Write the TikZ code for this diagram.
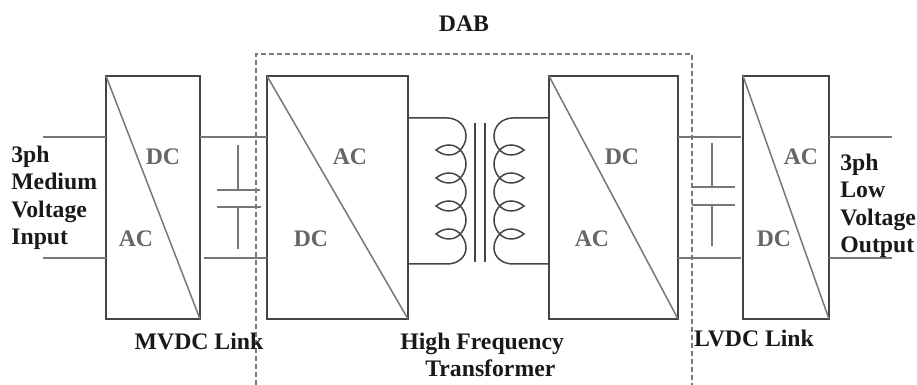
\documentclass[tikz,border=0pt]{standalone}
\usepackage{fontspec}
\setmainfont{Liberation Serif}
\usetikzlibrary{positioning}
\definecolor{boxgray}{HTML}{444444}
\definecolor{wiregray}{HTML}{777777}
\definecolor{labelgray}{HTML}{666666}
\tikzset{converter/.style={rectangle,draw=boxgray,fill=white,line width=0.4mm,
inner sep=0pt,outer sep=0pt,minimum height=48.6mm,anchor=north west}}
\tikzset{convtext/.style={text=labelgray,font=\fontsize{13.5}{15.6}\selectfont\bfseries,inner sep=0pt}}
\tikzset{sidetext/.style={text=black!90,font=\fontsize{13.5}{15.6}\selectfont\bfseries,inner sep=0pt,align=left,anchor=west}}
\tikzset{captext/.style={text=black!90,font=\fontsize{13.5}{15.6}\selectfont\bfseries,inner sep=0pt,align=center}}
\tikzset{wire/.style={draw=wiregray,line width=0.3mm}}
\tikzset{coil/.style={draw=boxgray,line width=0.3mm}}
\tikzset{dabframe/.style={draw=wiregray,line width=0.25mm,dash pattern=on 1mm off 0.6mm}}

\begin{document}
\begin{tikzpicture}[x=0.2mm,y=-0.2mm]
    \useasboundingbox (0,0) rectangle (917,385);

    \draw[dabframe] (256,385) -- (256,54) -- (692,54) -- (692,385);

    \node[converter, minimum width=18.8mm] (convA) at (106,76) { };
    \node[converter, minimum width=28.2mm] (convB) at (267,76) { };
    \node[converter, minimum width=25.8mm] (convC) at (549,76) { };
    \node[converter, minimum width=17.2mm] (convD) at (743,76) { };

    \draw[wire] (convA.north west) -- (convA.south east);
    \draw[wire] (convB.north west) -- (convB.south east);
    \draw[wire] (convC.north west) -- (convC.south east);
    \draw[wire] (convD.north west) -- (convD.south east);

    \coordinate (inTop) at (43,137);
    \coordinate (inBot) at (43,258);
    \coordinate (outTop) at (892,137);
    \coordinate (outBot) at (892,258);
    \draw[wire] (inTop) -- (inTop -| convA.west);
    \draw[wire] (inBot) -- (inBot -| convA.west);
    \draw[wire] (outTop) -- (outTop -| convD.east);
    \draw[wire] (outBot) -- (outBot -| convD.east);

    \draw[wire] (inTop -| convA.east) -- (inTop -| convB.west);
    \draw[wire] ([xshift=0.7mm]inBot -| convA.east) -- (inBot -| convB.west);
    \draw[wire] (inTop -| convC.east) -- ([xshift=-0.4mm]inTop -| convD.west);
    \draw[wire] (inBot -| convC.east) -- ([xshift=-0.4mm]inBot -| convD.west);

    % MVDC capacitor
    \coordinate (capAtop) at (238,145);
    \coordinate (capAbot) at (238,249);
    \coordinate (plateAul) at (217,190);
    \coordinate (plateAur) at (260,190);
    \coordinate (plateAll) at (217,207);
    \coordinate (plateAlr) at (261,207);
    \draw[wire] (capAtop) -- (capAtop |- plateAul);
    \draw[wire] (capAbot) -- (capAbot |- plateAll);
    \draw[wire] (plateAul) -- (plateAur);
    \draw[wire] (plateAll) -- (plateAlr);

    % LVDC capacitor
    \coordinate (capBtop) at (712,143);
    \coordinate (capBbot) at (712,246);
    \coordinate (plateBul) at (692,187);
    \coordinate (plateBur) at (735,187);
    \coordinate (plateBll) at (692,205);
    \coordinate (plateBlr) at (735,205);
    \draw[wire] (capBtop) -- (capBtop |- plateBul);
    \draw[wire] (capBbot) -- (capBbot |- plateBll);
    \draw[wire] (plateBul) -- (plateBur);
    \draw[wire] (plateBll) -- (plateBlr);

    % transformer
    \coordinate (coilAtop) at (447,118);
    \coordinate (coilAbot) at (447,264);
    \coordinate (coilBtop) at (513,118);
    \coordinate (coilBbot) at (513,264);
    \draw[coil] (coilAtop -| convB.east) -- (coilAtop)
        .. controls (458,118) and (466,126) .. (466,136)
        .. controls (466,144) and (460,155) .. (449,155)
        .. controls (444,155) and (440,153) .. (436,150)
        .. controls (440,147) and (444,145) .. (449,145)
        .. controls (460,145) and (466,156) .. (466,164)
        .. controls (466,172) and (460,183) .. (449,183)
        .. controls (444,183) and (440,181) .. (436,178)
        .. controls (440,175) and (444,173) .. (449,173)
        .. controls (460,173) and (466,184) .. (466,192)
        .. controls (466,200) and (460,211) .. (449,211)
        .. controls (444,211) and (440,209) .. (436,206)
        .. controls (440,203) and (444,201) .. (449,201)
        .. controls (460,201) and (466,212) .. (466,220)
        .. controls (466,228) and (460,239) .. (449,239)
        .. controls (444,239) and (440,237) .. (436,234)
        .. controls (440,231) and (444,229) .. (449,229)
        .. controls (460,229) and (466,240) .. (466,248)
        .. controls (466,257) and (458,264) .. (coilAbot) -- (coilAbot -| convB.east);
    \draw[coil] (coilBtop -| convC.west) -- (coilBtop)
        .. controls (502,118) and (494,126) .. (494,136)
        .. controls (494,144) and (500,155) .. (511,155)
        .. controls (516,155) and (520,153) .. (524,150)
        .. controls (520,147) and (516,145) .. (511,145)
        .. controls (500,145) and (494,156) .. (494,164)
        .. controls (494,172) and (500,183) .. (511,183)
        .. controls (516,183) and (520,181) .. (524,178)
        .. controls (520,175) and (516,173) .. (511,173)
        .. controls (500,173) and (494,184) .. (494,192)
        .. controls (494,200) and (500,211) .. (511,211)
        .. controls (516,211) and (520,209) .. (524,206)
        .. controls (520,203) and (516,201) .. (511,201)
        .. controls (500,201) and (494,212) .. (494,220)
        .. controls (494,228) and (500,239) .. (511,239)
        .. controls (516,239) and (520,237) .. (524,234)
        .. controls (520,231) and (516,229) .. (511,229)
        .. controls (500,229) and (494,240) .. (494,248)
        .. controls (494,257) and (502,264) .. (coilBbot) -- (coilBbot -| convC.west);
    \coordinate (coreAtop) at (475,123);
    \coordinate (coreAbot) at (475,262);
    \coordinate (coreBtop) at (485,123);
    \coordinate (coreBbot) at (485,262);
    \draw[coil] (coreAtop) -- (coreAbot);
    \draw[coil] (coreBtop) -- (coreBbot);

    \node[convtext] (dcA) at (163,157) {DC};
    \node[convtext] (acA) at (136,239) {AC};
    \node[convtext] (acB) at (350,157) {AC};
    \node[convtext] (dcB) at (311,239) {DC};
    \node[convtext] (dcC) at (622,157) {DC};
    \node[convtext] (acC) at (592,239) {AC};
    \node[convtext] (acD) at (801,157) {AC};
    \node[convtext] (dcD) at (774,239) {DC};

    \node[captext] (dabLabel) at (464,24) {DAB};
    \node[captext] (mvdcLabel) at (199,341) {MVDC Link};
    \node[captext] (lvdcLabel) at (754,338) {LVDC Link};
    \node[sidetext] (hfLabel) at (400,355) {High Frequency\\\hspace*{5mm}Transformer};
    \node[sidetext] (inLabel) at (11,198) {3ph\\Medium\\Voltage\\Input};
    \node[sidetext] (outLabel) at (840,206) {3ph\\Low\\Voltage\\Output};

\end{tikzpicture}
\end{document}
